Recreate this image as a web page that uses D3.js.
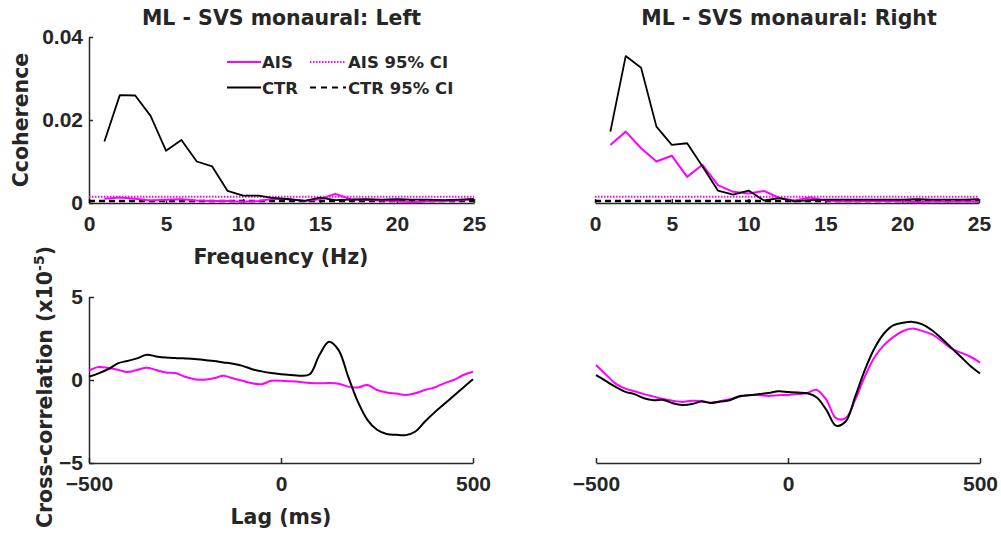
<!DOCTYPE html>
<html>
<head>
<meta charset="utf-8">
<script src="https://cdn.jsdelivr.net/npm/d3@7"></script>
<style>
  html, body { margin: 0; padding: 0; background: #fff; }
  svg { display: block; }
  text { font-family: "DejaVu Sans", sans-serif; font-weight: bold; fill: #262626; }
  .axis path, .axis line { stroke: #262626; stroke-width: 1.5; }
  .axis text { font-size: 21px; font-weight: bold; fill: #262626; font-family: "Liberation Sans", Arial, sans-serif; }
</style>
</head>
<body>
<svg id="chart" width="1001" height="535"></svg>
<script>
// ---- Coherence spectra (frequency bins 1..25 Hz) ----
const freqs = d3.range(1, 26);
const cohLeftAIS  = [0.0010, 0.0013, 0.0010, 0.0006, 0.0008, 0.0009, 0.0006, 0.0005, 0.0005, 0.0003,
                     0.0005, 0.0010, 0.0009, 0.0005, 0.0009, 0.0022, 0.0009, 0.0007, 0.0006, 0.0005,
                     0.0002, 0.0004, 0.0005, 0.0006, 0.0010];
const cohLeftCTR  = [0.0148, 0.0260, 0.0259, 0.0210, 0.0126, 0.0152, 0.0100, 0.0088, 0.0029, 0.0018,
                     0.0018, 0.0012, 0.0009, 0.0005, 0.0013, 0.0007, 0.0008, 0.0009, 0.0008, 0.0009,
                     0.0008, 0.0008, 0.0007, 0.0008, 0.0009];
const cohRightAIS = [0.0140, 0.0172, 0.0132, 0.0100, 0.0114, 0.0063, 0.0092, 0.0043, 0.0027, 0.0023,
                     0.0029, 0.0012, 0.0006, 0.0013, 0.0006, 0.0004, 0.0004, 0.0005, 0.0005, 0.0004,
                     0.0002, 0.0004, 0.0003, 0.0004, 0.0003];
const cohRightCTR = [0.0172, 0.0354, 0.0326, 0.0184, 0.0140, 0.0144, 0.0088, 0.0030, 0.0020, 0.0030,
                     0.0006, 0.0012, 0.0004, 0.0007, 0.0008, 0.0008, 0.0008, 0.0008, 0.0008, 0.0008,
                     0.0009, 0.0008, 0.0008, 0.0008, 0.0009];
// 95% confidence limits of coherence
const ciAIS = 0.0015;
const ciCTR = 0.0005;

// ---- Cross-correlation (x10^-5) vs lag (ms) ----
const lags = d3.range(-500, 501, 25);
const xcLeftCTR  = [0.2, 0.4, 0.65, 1.0, 1.15, 1.3, 1.52, 1.42, 1.35, 1.32, 1.3, 1.27, 1.2, 1.14, 1.06, 0.98,
                    0.85, 0.65, 0.52, 0.42, 0.35, 0.30, 0.26, 0.35, 1.5, 2.3, 1.8, 0.2, -1.3, -2.4, -3.0,
                    -3.25, -3.3, -3.32, -3.1, -2.5, -1.95, -1.45, -0.95, -0.45, 0.05];
const xcLeftAIS  = [0.56, 0.78, 0.72, 0.62, 0.48, 0.6, 0.74, 0.6, 0.45, 0.42, 0.2, 0.05, 0.02, 0.1, 0.25, 0.1,
                    -0.05, -0.2, -0.25, -0.05, -0.05, -0.08, -0.12, -0.18, -0.2, -0.18, -0.22, -0.4, -0.45,
                    -0.3, -0.6, -0.75, -0.82, -0.9, -0.8, -0.6, -0.45, -0.2, 0.0, 0.3, 0.5];
const xcRightCTR = [0.3, -0.05, -0.4, -0.7, -0.85, -1.1, -1.22, -1.2, -1.4, -1.5, -1.45, -1.3, -1.38, -1.3,
                    -1.2, -0.96, -0.92, -0.85, -0.78, -0.68, -0.72, -0.76, -0.8, -1.05, -1.8, -2.75, -2.5,
                    -1.0, 0.6, 1.9, 2.8, 3.3, 3.45, 3.5, 3.35, 3.0, 2.5, 1.95, 1.4, 0.85, 0.4];
const xcRightAIS = [0.9, 0.35, -0.2, -0.5, -0.68, -0.85, -1.0, -1.15, -1.25, -1.32, -1.25, -1.27, -1.37, -1.27,
                    -1.15, -1.0, -0.9, -0.92, -0.96, -0.92, -0.9, -0.85, -0.78, -0.6, -1.2, -2.3, -2.3, -1.2,
                    0.2, 1.35, 2.1, 2.6, 2.95, 3.1, 2.95, 2.75, 2.35, 1.9, 1.65, 1.4, 1.05];

const freqTicks = [0, 5, 10, 15, 20, 25];
const cohTicks = [0, 0.02, 0.04];
const lagTicks = [-500, 0, 500];
const xcTicks = [-5, 0, 5];

const titles = ["ML - SVS monaural: Left", "ML - SVS monaural: Right"];
const legendItems = [
  { label: "AIS", color: "#ff00ff", dash: null, width: 2 },
  { label: "AIS 95% CI", color: "#ff00ff", dash: "1.5,1.5", width: 2 },
  { label: "CTR", color: "#000", dash: null, width: 2 },
  { label: "CTR 95% CI", color: "#000", dash: "6,5", width: 2 }
];

const MAG = "#ff00ff";
const svg = d3.select("#chart");

// panel geometry
const panels = [
  { fx: [89, 474], lx: [89, 473], showY: true },
  { fx: [595, 979], lx: [596, 980], showY: false }
];
const yCoh = d3.scaleLinear().domain([0, 0.04]).range([203, 37]);
const yXc = d3.scaleLinear().domain([-5, 5]).range([463, 297]);

function drawLine(g, xs, ys, x, y, color, width, dash, curve) {
  const line = d3.line().x((d, i) => x(xs[i])).y(d => y(d)).curve(curve || d3.curveLinear);
  const p = g.append("path").datum(ys)
    .attr("d", line).attr("fill", "none")
    .attr("stroke", color).attr("stroke-width", width)
    .attr("stroke-linejoin", "round");
  if (dash) p.attr("stroke-dasharray", dash);
  return p;
}

const cohSets = [[cohLeftAIS, cohLeftCTR], [cohRightAIS, cohRightCTR]];
const xcSets = [[xcLeftAIS, xcLeftCTR], [xcRightAIS, xcRightCTR]];

panels.forEach((p, k) => {
  const xF = d3.scaleLinear().domain([0, 25]).range(p.fx);
  const xL = d3.scaleLinear().domain([-500, 500]).range(p.lx);

  // ---------- coherence panel ----------
  const gT = svg.append("g");
  gT.append("g").attr("class", "axis")
    .attr("transform", `translate(0,${yCoh(0)})`)
    .call(d3.axisBottom(xF).tickValues(freqTicks).tickFormat(d3.format("d"))
      .tickSizeInner(-4).tickSizeOuter(0).tickPadding(13));
  if (p.showY) {
    gT.append("g").attr("class", "axis")
      .attr("transform", `translate(${p.fx[0]},0)`)
      .call(d3.axisLeft(yCoh).tickValues(cohTicks).tickFormat(d => d === 0 ? "0" : d3.format(".2f")(d))
        .tickSizeInner(-4).tickSizeOuter(0).tickPadding(6));
  }
  // confidence limits
  gT.append("line").attr("x1", xF(0)).attr("x2", xF(25))
    .attr("y1", yCoh(ciCTR)).attr("y2", yCoh(ciCTR))
    .attr("stroke", "#000").attr("stroke-width", 2.5).attr("stroke-dasharray", "6,4");
  gT.append("line").attr("x1", xF(0)).attr("x2", xF(25))
    .attr("y1", yCoh(ciAIS)).attr("y2", yCoh(ciAIS))
    .attr("stroke", MAG).attr("stroke-width", 2).attr("stroke-dasharray", "1.5,1.5");
  drawLine(gT, freqs, cohSets[k][0], xF, yCoh, MAG, 2);
  drawLine(gT, freqs, cohSets[k][1], xF, yCoh, "#000", 1.8);

  // ---------- cross-correlation panel ----------
  const gB = svg.append("g");
  gB.append("g").attr("class", "axis")
    .attr("transform", `translate(0,${yXc(-5)})`)
    .call(d3.axisBottom(xL).tickValues(lagTicks).tickFormat(d3.format("d"))
      .tickSizeInner(-5).tickSizeOuter(0).tickPadding(13));
  if (p.showY) {
    gB.append("g").attr("class", "axis")
      .attr("transform", `translate(${p.lx[0]},0)`)
      .call(d3.axisLeft(yXc).tickValues(xcTicks).tickFormat(d3.format("d"))
        .tickSizeInner(-5).tickSizeOuter(0).tickPadding(6));
  }
  drawLine(gB, lags, xcSets[k][0], xL, yXc, MAG, 2, null, d3.curveCatmullRom);
  drawLine(gB, lags, xcSets[k][1], xL, yXc, "#000", 2, null, d3.curveCatmullRom);

  // title
  svg.append("text").attr("x", (p.fx[0] + p.fx[1]) / 2 + (k === 0 ? 0 : 2)).attr("y", 25)
    .attr("text-anchor", "middle").style("font-size", "20.5px").text(titles[k]);
});

// axis labels
svg.append("text").attr("x", 281).attr("y", 264).attr("text-anchor", "middle")
  .style("font-size", "20.5px").text("Frequency (Hz)");
svg.append("text").attr("x", 281).attr("y", 524).attr("text-anchor", "middle")
  .style("font-size", "20.5px").text("Lag (ms)");
svg.append("text").attr("transform", "translate(28,120) rotate(-90)").attr("text-anchor", "middle")
  .style("font-size", "20.5px").text("Ccoherence");
const xcLab = svg.append("text").attr("transform", "translate(52,387) rotate(-90)")
  .attr("text-anchor", "middle").style("font-size", "20.5px");
xcLab.append("tspan").text("Cross-correlation (x10");
xcLab.append("tspan").attr("dy", -8).style("font-size", "14px").text("-5");
xcLab.append("tspan").attr("dy", 8).text(")");

// legend
const lg = svg.append("g").attr("transform", "translate(227,62)");
legendItems.forEach((it, i) => {
  const col = i % 2, row = Math.floor(i / 2);
  const ox = col * 83, oy = row * 25.5;
  const l = lg.append("line").attr("x1", ox).attr("x2", ox + 34 + (col ? 2 : 0))
    .attr("y1", oy).attr("y2", oy)
    .attr("stroke", it.color).attr("stroke-width", it.width);
  if (it.dash) l.attr("stroke-dasharray", it.dash);
  lg.append("text").attr("x", ox + 35 + (col ? 3 : 0)).attr("y", oy + 6)
    .style("font-size", "16.5px").text(it.label);
});
</script>
</body>
</html>
